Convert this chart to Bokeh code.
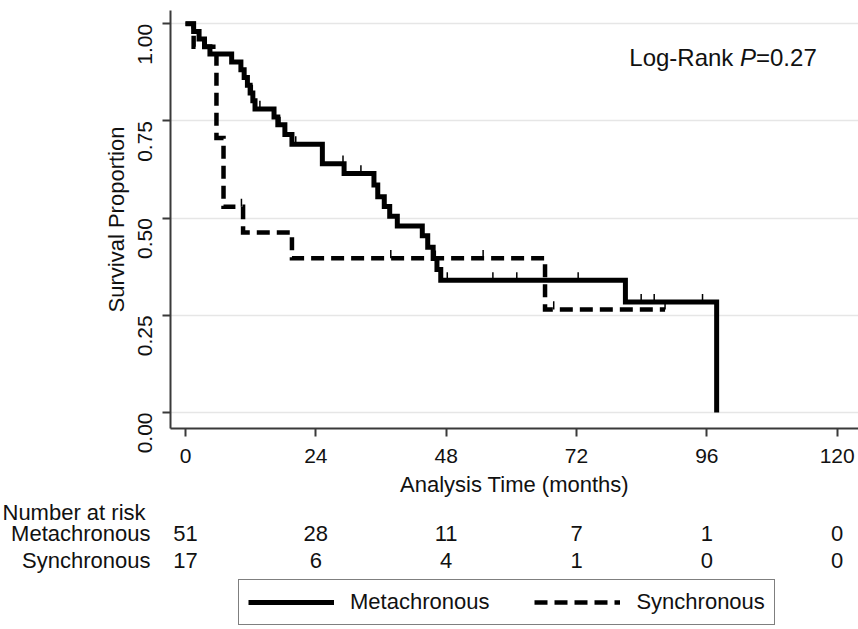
import math
from bokeh.plotting import figure
from bokeh.layouts import column
from bokeh.models import (Range1d, FixedTicker, NumeralTickFormatter, Label,
                          Legend, LegendItem, ColumnDataSource)
from bokeh.core.properties import value
from bokeh.embed import file_html
from bokeh.resources import INLINE

# ---------------- data ----------------
# Kaplan-Meier step points: time of event (months) and survival after it
meta_t = [0, 1.5, 2.5, 3.5, 4.5, 8.5, 10.2, 10.8, 11.4, 11.9, 12.4, 12.8,
          16.3, 17.0, 18.3, 19.6, 25.2, 29.2, 34.7, 35.4, 36.6, 37.6, 39.0,
          43.6, 44.6, 45.6, 46.3, 47.0, 81.0, 97.8]
meta_s = [1.0, 0.980, 0.961, 0.941, 0.922, 0.902, 0.882, 0.862, 0.842, 0.822,
          0.802, 0.781, 0.760, 0.740, 0.715, 0.690, 0.640, 0.615, 0.585, 0.555,
          0.530, 0.505, 0.480, 0.455, 0.425, 0.396, 0.368, 0.340, 0.284, 0.0]
meta_censor = [12.3, 13.7, 17.4, 20.3, 29.0, 32.3, 44.7, 46.0, 48.2, 56.6,
               61.0, 72.3, 83.9, 86.3, 95.2]

syn_t = [0, 1.5, 5.7, 7.0, 10.6, 19.6, 66.2]
syn_s = [1.0, 0.941, 0.706, 0.529, 0.463, 0.397, 0.265]
syn_censor = [10.3, 37.8, 54.8, 67.8, 88.3]
syn_end = 88.3

groups = ["Metachronous", "Synchronous"]
risk_times = [0, 24, 48, 72, 96, 120]
risk_meta = [51, 28, 11, 7, 1, 0]
risk_syn = [17, 6, 4, 1, 0, 0]

x_ticks = [0, 24, 48, 72, 96, 120]
y_ticks = [0.0, 0.25, 0.50, 0.75, 1.00]
p_text = ["Log-Rank", "P", "=0.27"]

# ---------------- layout constants ----------------
FONT = "Liberation Sans"
TXT = "#111111"
AX = "#3a3a3a"
W = 858
H1 = 499            # main plot
H2 = 130            # number-at-risk table + legend
X0_PX = 185.0       # pixel column of t = 0
PX_PER_MONTH = 5.431
FRAME_L = 170

# ---------------- main plot ----------------
p = figure(width=W, height=H1, output_backend="svg", toolbar_location=None,
           x_range=Range1d((FRAME_L - X0_PX) / PX_PER_MONTH, (W - X0_PX) / PX_PER_MONTH),
           y_range=Range1d(-0.0412, 1.0342),
           min_border_left=FRAME_L, min_border_right=0, min_border_top=10,
           min_border_bottom=H1 - 428)
p.frame_align = False
p.outline_line_color = None
p.background_fill_color = "white"
p.border_fill_color = "white"

p.xgrid.visible = False
p.ygrid.grid_line_color = "#e6e6e6"
p.ygrid.grid_line_width = 1.5

for ax in (p.xaxis[0], p.yaxis[0]):
    ax.axis_line_color = AX
    ax.axis_line_width = 2
    ax.major_tick_line_color = AX
    ax.major_tick_line_width = 2
    ax.major_tick_out = 8
    ax.major_tick_in = 0
    ax.minor_tick_out = 0
    ax.minor_tick_in = 0
    ax.major_label_text_font = FONT
    ax.major_label_text_font_size = "21px"
    ax.major_label_text_color = TXT
    ax.axis_label_text_font = FONT
    ax.axis_label_text_font_size = "22px"
    ax.axis_label_text_font_style = "normal"
    ax.axis_label_text_color = TXT

p.xaxis.ticker = FixedTicker(ticks=x_ticks)
p.xaxis.major_label_standoff = 12
p.xaxis.axis_label = "Analysis Time (months)"
p.xaxis.axis_label_standoff = 6

p.yaxis.ticker = FixedTicker(ticks=y_ticks)
p.yaxis.formatter = NumeralTickFormatter(format="0.00")
p.yaxis.major_label_orientation = math.pi / 2
p.yaxis.major_label_standoff = 17
p.yaxis.axis_label = "Survival Proportion"
p.yaxis.axis_label_standoff = 0

# curves
meta_x = list(meta_t)
meta_y = list(meta_s)
syn_x = list(syn_t) + [syn_end]
syn_y = list(syn_s) + [syn_s[-1]]

META_STYLE = dict(line_color="black", line_width=5, line_join="miter")
SYN_STYLE = dict(line_color="black", line_width=4.5, line_dash="13 7",
                 line_join="miter")

p.step(meta_x, meta_y, mode="after", **META_STYLE)
p.step(syn_x, syn_y, mode="after", **SYN_STYLE)


def surv_at(ts, ss, t):
    val = ss[0]
    for ti, si in zip(ts, ss):
        if ti <= t:
            val = si
    return val


mc_y = [surv_at(meta_t, meta_s, t) for t in meta_censor]
sc_y = [surv_at(syn_t, syn_s, t) for t in syn_censor]
p.segment(x0=meta_censor, y0=mc_y, x1=meta_censor, y1=[v + 0.021 for v in mc_y],
          line_color="black", line_width=1.5)
p.segment(x0=syn_censor, y0=sc_y, x1=syn_censor, y1=[v + 0.021 for v in sc_y],
          line_color="black", line_width=1.5)

# log-rank annotation (screen units, relative to the frame's bottom-left)
lr_x = [458.8, 569.5, 585.5]
for txt, xx, style in zip(p_text, lr_x, ["normal", "italic", "normal"]):
    p.add_layout(Label(x=xx, y=371, x_units="screen", y_units="screen", text=txt,
                       text_font=FONT, text_font_size="24px", text_font_style=style,
                       text_color=TXT, text_align="left", text_baseline="middle"))

# ---------------- number at risk + legend ----------------
q = figure(width=W, height=H2, output_backend="svg", toolbar_location=None,
           x_range=Range1d(-X0_PX / PX_PER_MONTH, (W - X0_PX) / PX_PER_MONTH),
           y_range=Range1d(H2, 0),
           x_axis_location=None, y_axis_location=None,
           min_border_left=0, min_border_right=0, min_border_top=0,
           min_border_bottom=0)
q.frame_align = False
q.outline_line_color = None
q.grid.visible = False
q.background_fill_color = "white"
q.border_fill_color = "white"

ROW_Y = [34, 61]
q.add_layout(Label(x=2, y=13, x_units="screen", y_units="data",
                   text="Number at risk", text_font=FONT, text_font_size="22px",
                   text_color=TXT, text_align="left", text_baseline="middle"))
for name, counts, yy in zip(groups, [risk_meta, risk_syn], ROW_Y):
    q.add_layout(Label(x=150, y=yy, x_units="screen", y_units="data",
                       text=name, text_font=FONT, text_font_size="22px",
                       text_color=TXT, text_align="right", text_baseline="middle"))
    src = ColumnDataSource(dict(x=risk_times, y=[yy] * len(risk_times),
                                t=[str(n) for n in counts]))
    q.text(x="x", y="y", text="t", source=src, text_font=value(FONT),
           text_font_size="22px", text_color=TXT, text_align="center",
           text_baseline="middle")

# legend entries: hidden copies of the two curves (drawn only as legend keys)
lm = q.line(meta_x, meta_y, visible=False, **META_STYLE)
ls = q.line(syn_x, syn_y, visible=False, **SYN_STYLE)
legend = Legend(items=[LegendItem(label=groups[0], renderers=[lm]),
                       LegendItem(label=groups[1], renderers=[ls])],
                orientation="horizontal", location=(238, 4),
                glyph_width=86, glyph_height=24, label_height=24,
                label_standoff=16, spacing=45, padding=9, margin=0,
                border_line_color="black", border_line_width=1.5,
                background_fill_color="white", inactive_fill_alpha=0.0,
                label_text_font=FONT, label_text_font_size="22px",
                label_text_color=TXT)
q.add_layout(legend)

layout = column(p, q, spacing=0)
open("out.html", "w").write(file_html(layout, INLINE))
